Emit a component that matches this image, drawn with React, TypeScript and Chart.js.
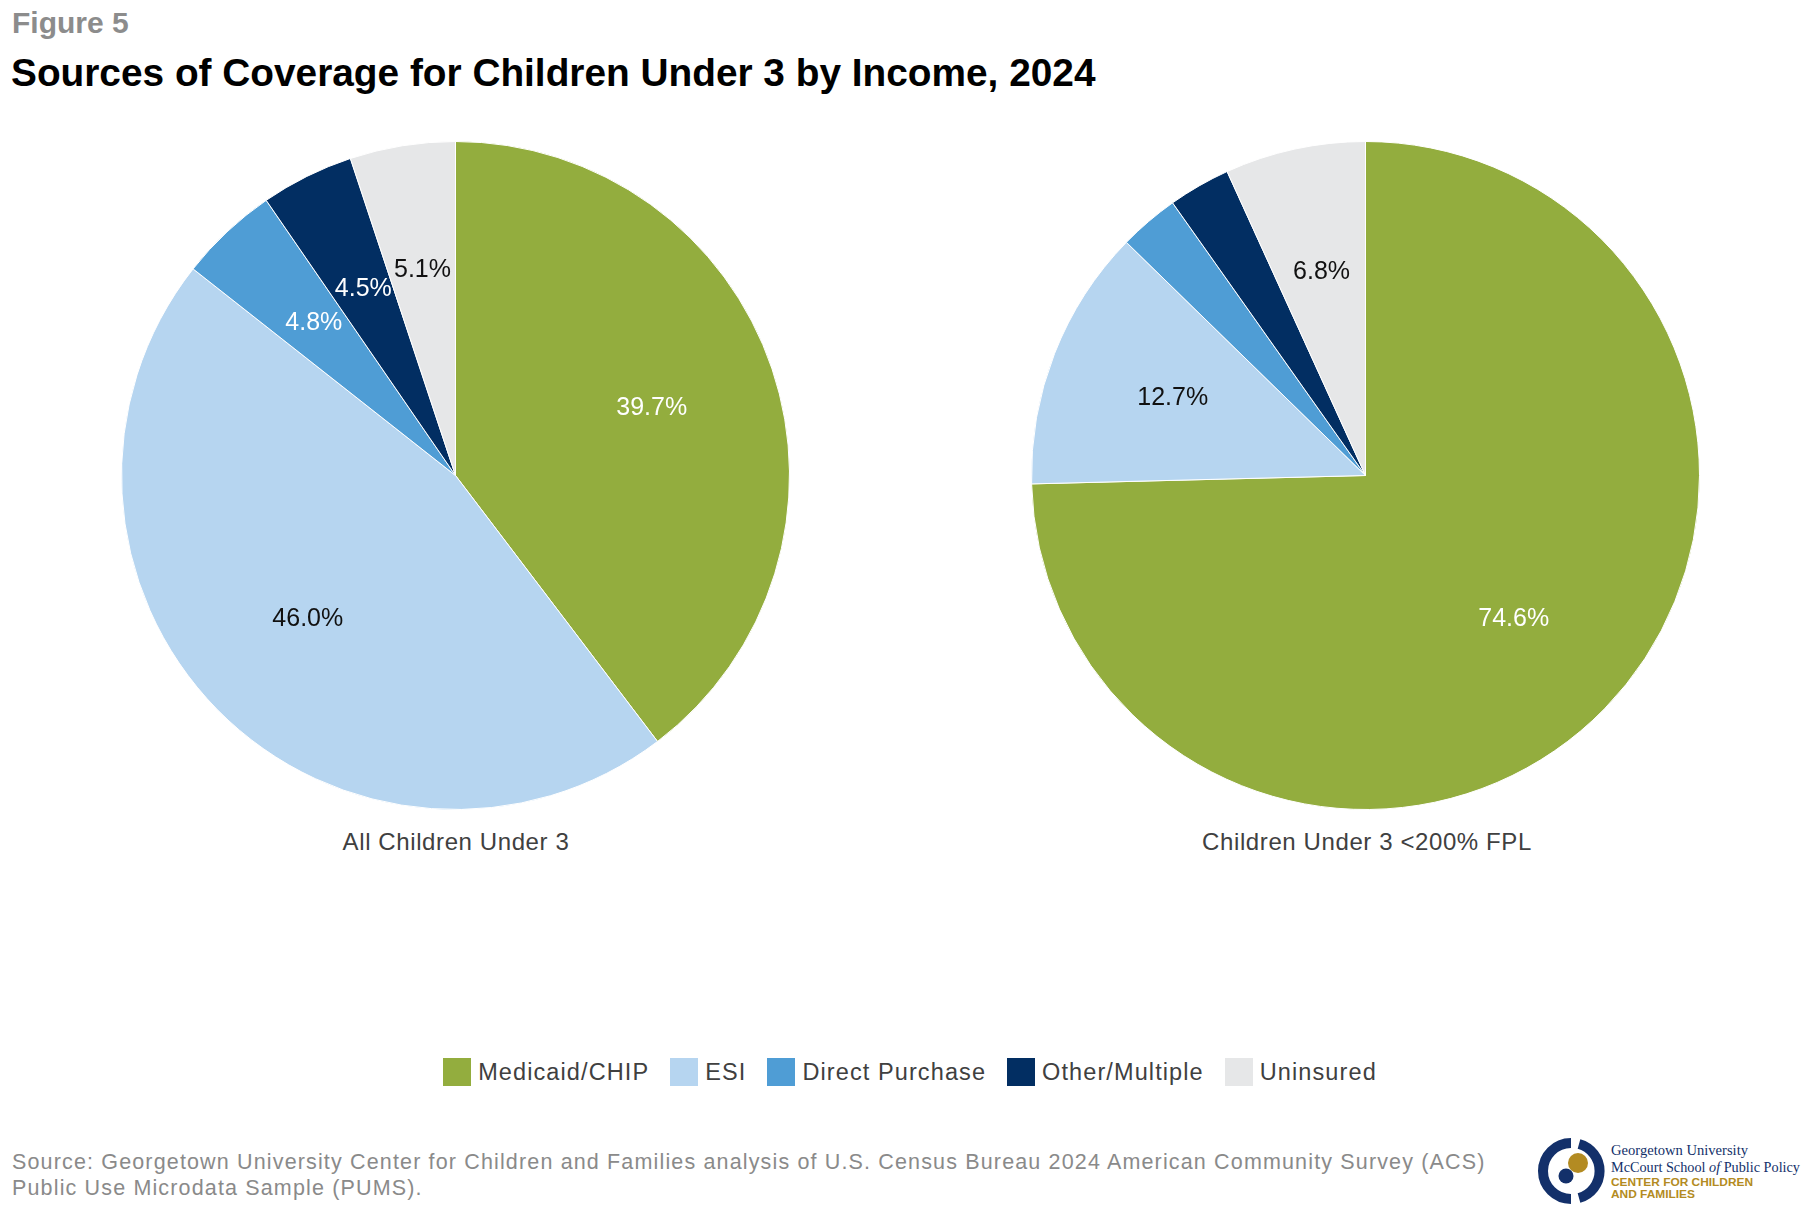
import React, { useEffect, useRef } from "react";
import { Chart, registerables } from "chart.js";

Chart.register(...registerables);

// ---- data ----
const categories = ["Medicaid/CHIP", "ESI", "Direct Purchase", "Other/Multiple", "Uninsured"];
const allChildrenValues = [39.7, 46.0, 4.8, 4.5, 5.1];
const lowIncomeValues = [74.6, 12.7, 2.9, 3.0, 6.8];
const pieTitles = ["All Children Under 3", "Children Under 3 <200% FPL"];
const sliceColors = ["#93AD3E", "#B6D5F0", "#4F9DD5", "#022E62", "#E6E7E8"];
const labelColors = ["#FFFFFF", "#111111", "#FFFFFF", "#FFFFFF", "#111111"];
const figureLabel = "Figure 5";
const titleText = "Sources of Coverage for Children Under 3 by Income, 2024";
const sourceLines = [
  "Source: Georgetown University Center for Children and Families analysis of U.S. Census Bureau 2024 American Community Survey (ACS)",
  "Public Use Microdata Sample (PUMS).",
];

const FONT = '"Liberation Sans", Arial, Helvetica, sans-serif';

const labelPlugin = {
  id: "sliceLabels",
  afterDatasetsDraw(chart: any) {
    const ctx = chart.ctx;
    const meta = chart.getDatasetMeta(0);
    const data = chart.data.datasets[0].data as number[];
    meta.data.forEach((arc: any, i: number) => {
      const v = data[i];
      if (v < 4) return;
      const { x, y, startAngle, endAngle, outerRadius } = arc.getProps(
        ["x", "y", "startAngle", "endAngle", "outerRadius"],
        true
      );
      const mid = (startAngle + endAngle) / 2;
      const r = outerRadius * 0.62;
      ctx.save();
      ctx.font = `25px ${FONT}`;
      ctx.fillStyle = labelColors[i];
      ctx.textAlign = "center";
      ctx.textBaseline = "alphabetic";
      ctx.fillText(v.toFixed(1) + "%", x + Math.cos(mid) * r, y + Math.sin(mid) * r + 5.5);
      ctx.restore();
    });
  },
};

function PieChart({ values, left }: { values: number[]; left: number }) {
  const ref = useRef<HTMLCanvasElement>(null);
  useEffect(() => {
    if (!ref.current) return;
    const chart = new Chart(ref.current, {
      type: "pie",
      data: {
        labels: categories,
        datasets: [
          {
            data: values,
            backgroundColor: sliceColors,
            borderColor: "#FFFFFF",
            borderWidth: 1,
          },
        ],
      },
      options: {
        responsive: false,
        animation: false,
        events: [],
        layout: { padding: 0 },
        plugins: { legend: { display: false }, tooltip: { enabled: false } },
      } as any,
      plugins: [labelPlugin],
    });
    return () => chart.destroy();
  }, [values]);
  return (
    <canvas
      ref={ref}
      width={669}
      height={669}
      style={{ position: "absolute", left, top: 141, width: 669, height: 669 }}
    />
  );
}

function Logo() {
  const navy = "#13306A";
  const gold = "#B38B22";
  return (
    <svg
      width={280}
      height={80}
      viewBox="0 0 280 80"
      style={{ position: "absolute", left: 1535, top: 1132 }}
    >
      <path d="M 36 11 A 28 28 0 0 0 36 67" fill="none" stroke={navy} strokeWidth={10} />
      <path d="M 44 12 A 28 28 0 0 1 44 66" fill="none" stroke={navy} strokeWidth={10} />
      <circle cx={43} cy={31} r={10} fill={gold} />
      <circle cx={31} cy={44} r={7.5} fill={navy} />
      <text x={76} y={23} fontFamily='"Liberation Serif", "DejaVu Serif", serif' fontSize={15} fill={navy} textLength={137} lengthAdjust="spacingAndGlyphs">
        Georgetown University
      </text>
      <text x={76} y={40} fontFamily='"Liberation Serif", "DejaVu Serif", serif' fontSize={15} fill={navy} textLength={189} lengthAdjust="spacingAndGlyphs">
        McCourt School <tspan fontStyle="italic">of</tspan> Public Policy
      </text>
      <text x={76} y={54} fontFamily={FONT} fontWeight="bold" fontSize={10} fill={gold} textLength={142} lengthAdjust="spacingAndGlyphs">
        CENTER FOR CHILDREN
      </text>
      <text x={76} y={66} fontFamily={FONT} fontWeight="bold" fontSize={10} fill={gold} textLength={84} lengthAdjust="spacingAndGlyphs">
        AND FAMILIES
      </text>
    </svg>
  );
}

export default function App() {
  const legendTextStyle: React.CSSProperties = {
    fontFamily: FONT,
    fontSize: 23.5,
    letterSpacing: "1.1px",
    lineHeight: "28px",
    color: "#404040",
    whiteSpace: "nowrap",
  };
  return (
    <div
      style={{
        position: "absolute",
        left: 0,
        top: 0,
        width: 1820,
        height: 1220,
        background: "#FFFFFF",
        overflow: "hidden",
        fontFamily: FONT,
      }}
    >
      <div
        style={{
          position: "absolute",
          left: 12,
          top: 8,
          fontSize: 30,
          lineHeight: "30px",
          fontWeight: "bold",
          color: "#8C8C8C",
          whiteSpace: "nowrap",
        }}
      >
        {figureLabel}
      </div>
      <div
        style={{
          position: "absolute",
          left: 11,
          top: 53,
          fontSize: 38.8,
          lineHeight: "39px",
          fontWeight: "bold",
          color: "#000000",
          whiteSpace: "nowrap",
        }}
      >
        {titleText}
      </div>

      <PieChart values={allChildrenValues} left={121} />
      <PieChart values={lowIncomeValues} left={1031} />

      {pieTitles.map((t, i) => (
        <div
          key={t}
          style={{
            position: "absolute",
            left: (i === 0 ? 456 : 1367) - 300,
            width: 600,
            top: 830,
            textAlign: "center",
            fontSize: 24,
            letterSpacing: "0.6px",
            lineHeight: "24px",
            color: "#404040",
            whiteSpace: "nowrap",
          }}
        >
          {t}
        </div>
      ))}

      <div
        style={{
          position: "absolute",
          left: 0,
          width: 1820,
          top: 1058,
          height: 28,
          display: "flex",
          justifyContent: "center",
          alignItems: "center",
        }}
      >
        {categories.map((c, i) => (
          <div
            key={c}
            style={{
              display: "flex",
              alignItems: "center",
              marginLeft: i === 0 ? 0 : 21,
            }}
          >
            <div style={{ width: 28, height: 28, background: sliceColors[i], marginRight: 7 }} />
            <div style={legendTextStyle}>{c}</div>
          </div>
        ))}
      </div>

      {sourceLines.map((s, i) => (
        <div
          key={i}
          style={{
            position: "absolute",
            left: 12,
            top: 1149 + i * 26,
            fontSize: 21.5,
            letterSpacing: "1.15px",
            lineHeight: "26px",
            color: "#8A8A8A",
            whiteSpace: "nowrap",
          }}
        >
          {s}
        </div>
      ))}

      <Logo />
    </div>
  );
}
